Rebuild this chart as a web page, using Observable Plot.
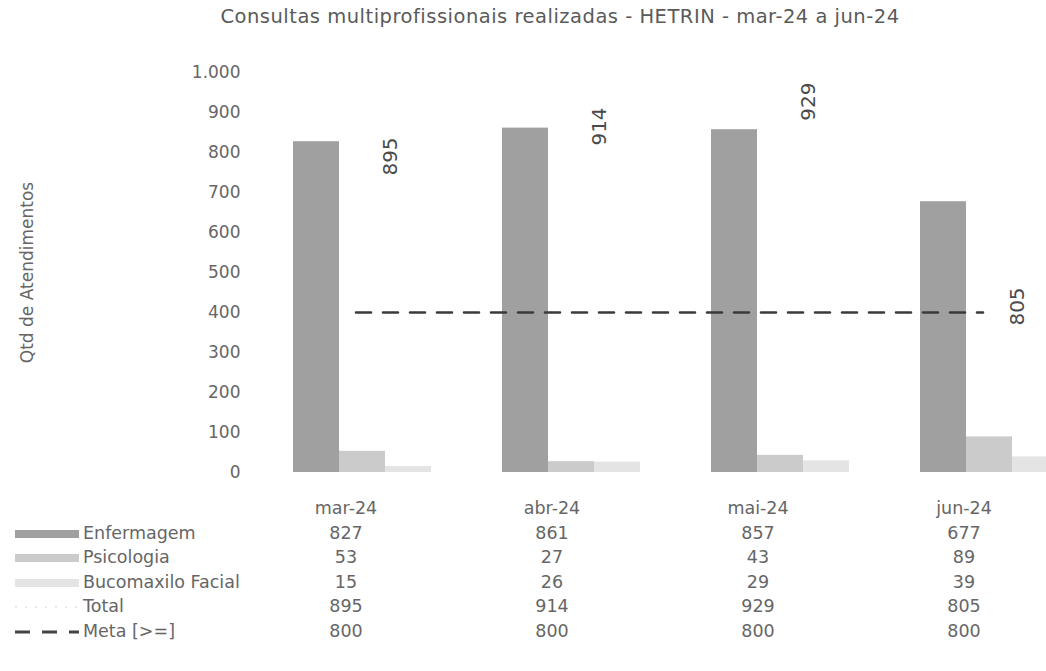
<!DOCTYPE html>
<html>
<head>
<meta charset="utf-8">
<script src="https://cdn.jsdelivr.net/npm/d3@7"></script>
<script src="https://cdn.jsdelivr.net/npm/@observablehq/plot@0.6"></script>
<style>
  html, body { margin: 0; padding: 0; background: #fff; overflow: hidden; }
  body { width: 1046px; height: 671px; font-family: "DejaVu Sans", sans-serif; }
  #title { height: 36px; line-height: 34px; font-size: 19.5px; letter-spacing: 0.5px; color: #5a5a5a; text-align: center; padding-left: 74px; box-sizing: border-box; width: 1046px; }
  table { border-collapse: collapse; table-layout: fixed; width: 1067px; font-size: 17.5px; color: #666; }
  td { height: 24.5px; padding: 0; text-align: center; white-space: nowrap; }
  td.lab { text-align: left; padding-left: 15px; }
  .sw { display: inline-block; width: 64px; height: 8px; vertical-align: middle; margin-right: 4px; }
</style>
</head>
<body>
<div id="title">Consultas multiprofissionais realizadas - HETRIN - mar-24 a jun-24</div>
<div id="chart"></div>
<div id="table"></div>
<script>
// ---- data ----
const months = ["mar-24", "abr-24", "mai-24", "jun-24"];
const enfermagem = [827, 861, 857, 677];
const psicologia = [53, 27, 43, 89];
const bucomaxilo = [15, 26, 29, 39];
const total = [895, 914, 929, 805];
const meta = [800, 800, 800, 800];
const yTicks = [0, 100, 200, 300, 400, 500, 600, 700, 800, 900, 1000];
// where the rotated Total labels sit, read on the primary axis
const totalLabelAt = [790, 865, 927, 415];
const seriesNames = ["Enfermagem", "Psicologia", "Bucomaxilo Facial", "Total", "Meta [>=]"];
const seriesColors = ["#a0a0a0", "#cbcbcb", "#e4e4e4", "#ffffff", "#444444"];
// secondary axis (Meta/Total) runs 0–2000 against primary 0–1000
const secondaryFactor = 1000 / 2000;

const ptBR = d3.formatLocale({decimal: ",", thousands: ".", grouping: [3], currency: ["R$", ""]});
const fmt = ptBR.format(",");

const rows = months.map((m, i) => ({
  month: m, enf: enfermagem[i], psi: psicologia[i], buc: bucomaxilo[i],
  total: total[i], meta: meta[i], labelAt: totalLabelAt[i]
}));

const font = "DejaVu Sans, sans-serif";

const chart = Plot.plot({
  width: 1046,
  height: 460,
  marginTop: 36,
  marginBottom: 24,
  marginLeft: 243,
  marginRight: 0,
  style: {fontFamily: font, color: "#666", background: "transparent", overflow: "visible"},
  x: {type: "band", domain: months, range: [243, 1079], padding: 0, axis: null},
  y: {domain: [0, 1000], axis: null},
  marks: [
    Plot.axisY({ticks: yTicks, tickFormat: fmt, tickSize: 0, tickPadding: 3, fontSize: 17,
      label: "Qtd de Atendimentos", labelAnchor: "center", labelArrow: "none", labelOffset: 223}),
    Plot.barY(rows, {x: "month", y: "enf", fill: seriesColors[0], insetLeft: 50, insetRight: 113}),
    Plot.barY(rows, {x: "month", y: "psi", fill: seriesColors[1], insetLeft: 96, insetRight: 67}),
    Plot.barY(rows, {x: "month", y: "buc", fill: seriesColors[2], insetLeft: 142, insetRight: 21}),
    Plot.lineY(rows, {x: "month", y: d => d.meta * secondaryFactor, stroke: "#3a3a3a",
      strokeWidth: 2.6, strokeDasharray: "15,12", dx: 8}),
    Plot.text(rows, {x: "month", y: "labelAt", text: d => String(d.total), rotate: -90,
      dx: 43, fontSize: 20, fill: "#4a4a4a"})
  ]
});
document.getElementById("chart").appendChild(chart);

// ---- data table with legend keys ----
function swatch(i) {
  if (i === 4) {
    return `<svg width="64" height="8" style="vertical-align:middle;margin-right:4px"><line x1="0" x2="64" y1="4" y2="4" stroke="${seriesColors[4]}" stroke-width="3" stroke-dasharray="15,12"/></svg>`;
  }
  if (i === 3) {
    return `<svg width="64" height="8" style="vertical-align:middle;margin-right:4px"><line x1="0" x2="64" y1="4" y2="4" stroke="#e8e8e8" stroke-width="2" stroke-dasharray="2,8"/></svg>`;
  }
  return `<span class="sw" style="background:${seriesColors[i]}"></span>`;
}
const valueRows = [enfermagem, psicologia, bucomaxilo, total, meta];
let html = `<table><colgroup><col style="width:243px">` + months.map(() => `<col style="width:206px">`).join("") + `</colgroup>`;
html += `<tr><td></td>` + months.map(m => `<td>${m}</td>`).join("") + `</tr>`;
valueRows.forEach((vals, i) => {
  html += `<tr><td class="lab">${swatch(i)}${seriesNames[i]}</td>` + vals.map(v => `<td>${fmt(v)}</td>`).join("") + `</tr>`;
});
html += `</table>`;
document.getElementById("table").innerHTML = html;
</script>
</body>
</html>
